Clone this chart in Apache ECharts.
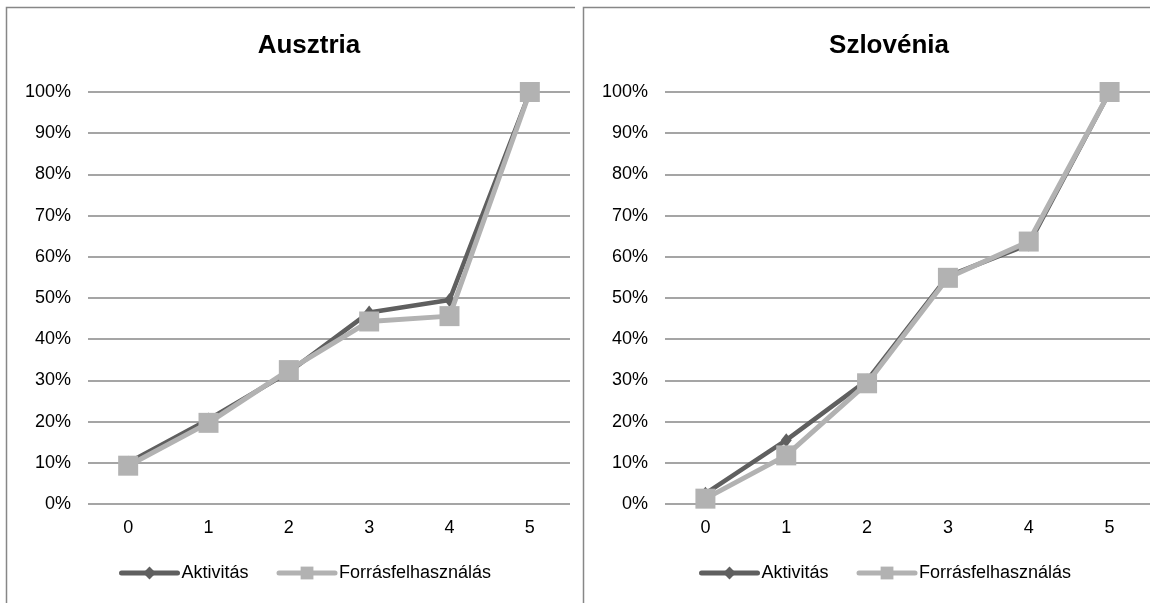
<!DOCTYPE html>
<html>
<head>
<meta charset="utf-8">
<script src="https://cdn.jsdelivr.net/npm/echarts@6/dist/echarts.min.js"></script>
<style>
html,body{margin:0;padding:0;background:#fff;}
#c{width:1150px;height:603px;}
</style>
</head>
<body>
<div id="c"></div>
<script>
const categories = ['0', '1', '2', '3', '4', '5'];
const titles = ['Ausztria', 'Szlovénia'];
const seriesNames = ['Aktivitás', 'Forrásfelhasználás'];
const austriaAktivitas = [0.100, 0.205, 0.320, 0.465, 0.495, 1.000];
const austriaForras = [0.093, 0.197, 0.325, 0.443, 0.456, 1.000];
const sloveniaAktivitas = [0.025, 0.155, 0.300, 0.553, 0.630, 1.000];
const sloveniaForras = [0.013, 0.118, 0.293, 0.549, 0.637, 1.000];
const yTicks = { min: 0, max: 1, interval: 0.1 };

const FONT = '"Liberation Sans", Arial, sans-serif';
const darkC = '#5f5f5f';
const lightC = '#b2b2b2';
const gridC = '#878787';

const chart = echarts.init(document.getElementById('c'), null, { renderer: 'canvas' });

const grids = [
  { left: 88, top: 92, width: 482, height: 412 },
  { left: 665, top: 92, width: 487, height: 412 }
];
const titleCenters = [304, 884];
const legendLefts = [119, 699];

function xAxis(i) {
  return {
    type: 'category', gridIndex: i, data: categories, boundaryGap: true,
    axisLine: { show: false }, axisTick: { show: false },
    axisLabel: { color: '#000', fontSize: 18, fontFamily: FONT, margin: 15 }
  };
}
function yAxis(i) {
  return {
    type: 'value', gridIndex: i, min: yTicks.min, max: yTicks.max, interval: yTicks.interval,
    axisLine: { show: false }, axisTick: { show: false },
    axisLabel: { color: '#000', fontSize: 18, fontFamily: FONT, margin: 17,
      formatter: v => Math.round(v * 100) + '%' },
    splitLine: { show: true, lineStyle: { color: gridC, width: 1.5 } }
  };
}
function akt(i, data) {
  return {
    name: seriesNames[0], type: 'line', xAxisIndex: i, yAxisIndex: i, data: data,
    symbol: 'diamond', symbolSize: [11, 14], showSymbol: true,
    lineStyle: { color: darkC, width: 4.5 }, itemStyle: { color: darkC },
    animation: false, z: 2
  };
}
function forras(i, data) {
  return {
    name: seriesNames[1], type: 'line', xAxisIndex: i, yAxisIndex: i, data: data,
    symbol: 'rect', symbolSize: 20, showSymbol: true,
    lineStyle: { color: lightC, width: 5 }, itemStyle: { color: lightC },
    animation: false, z: 3
  };
}

const option = {
  backgroundColor: '#fff',
  animation: false,
  title: titles.map((t, i) => ({
    text: t, left: titleCenters[i], top: 28, textAlign: 'center',
    textStyle: { fontSize: 26, fontWeight: 'bold', color: '#000', fontFamily: FONT }
  })),
  legend: [0, 1].map(i => ({
    left: legendLefts[i], top: 564, orient: 'horizontal', padding: 0,
    itemWidth: 56, itemHeight: 16, itemGap: 28,
    data: seriesNames,
    lineStyle: { width: 5, cap: 'round' },
    textStyle: { fontSize: 18, color: '#000', fontFamily: FONT, padding: [0, 0, 0, -1] },
    selectedMode: false
  })),
  grid: grids,
  xAxis: [xAxis(0), xAxis(1)],
  yAxis: [yAxis(0), yAxis(1)],
  series: [
    akt(0, austriaAktivitas), forras(0, austriaForras),
    akt(1, sloveniaAktivitas), forras(1, sloveniaForras)
  ],
  graphic: [
    { type: 'polyline', shape: { points: [[6.5, 603], [6.5, 7.5], [575, 7.5]] },
      style: { stroke: gridC, lineWidth: 1.5, fill: null }, silent: true },
    { type: 'polyline', shape: { points: [[583.5, 603], [583.5, 7.5], [1150, 7.5]] },
      style: { stroke: gridC, lineWidth: 1.5, fill: null }, silent: true }
  ]
};
chart.setOption(option);
</script>
</body>
</html>
